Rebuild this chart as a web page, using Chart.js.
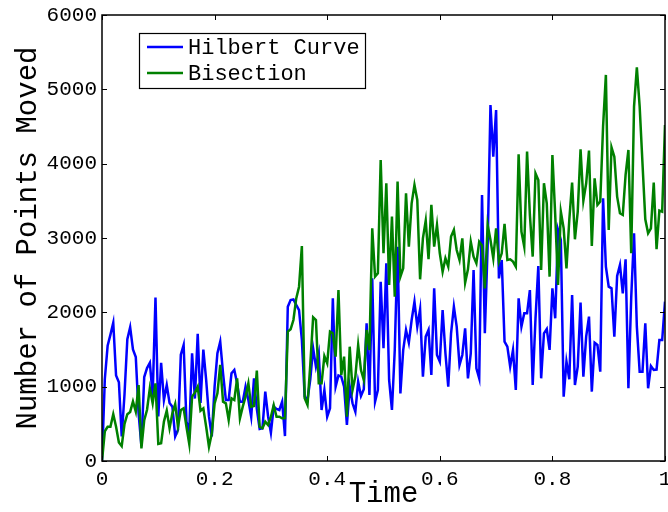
<!DOCTYPE html>
<html>
<head>
<meta charset="utf-8">
<title>Number of Points Moved</title>
<script src="https://cdn.jsdelivr.net/npm/chart.js@4.4.0/dist/chart.umd.min.js"></script>
<style>
  html, body { margin: 0; padding: 0; background: #fff; }
  #wrap { width: 668px; height: 512px; position: relative; }
</style>
</head>
<body>
<div id="wrap"><canvas id="canvas" width="668" height="512"></canvas></div>
<script>
// time samples (x)
var times = [
  0, 0.005, 0.01, 0.015, 0.02, 0.025, 0.03, 0.035, 0.04, 0.045,
  0.05, 0.055, 0.06, 0.065, 0.07, 0.075, 0.08, 0.085, 0.09, 0.095,
  0.1, 0.105, 0.11, 0.115, 0.12, 0.125, 0.13, 0.135, 0.14, 0.145,
  0.15, 0.155, 0.16, 0.165, 0.17, 0.175, 0.18, 0.185, 0.19, 0.195,
  0.2, 0.205, 0.21, 0.215, 0.22, 0.225, 0.23, 0.235, 0.24, 0.245,
  0.25, 0.255, 0.26, 0.265, 0.27, 0.275, 0.28, 0.285, 0.29, 0.295,
  0.3, 0.305, 0.31, 0.315, 0.32, 0.325, 0.33, 0.335, 0.34, 0.345,
  0.35, 0.355, 0.36, 0.365, 0.37, 0.375, 0.38, 0.385, 0.39, 0.395,
  0.4, 0.405, 0.41, 0.415, 0.42, 0.425, 0.43, 0.435, 0.44, 0.445,
  0.45, 0.455, 0.46, 0.465, 0.47, 0.475, 0.48, 0.485, 0.49, 0.495,
  0.5, 0.505, 0.51, 0.515, 0.52, 0.525, 0.53, 0.535, 0.54, 0.545,
  0.55, 0.555, 0.56, 0.565, 0.57, 0.575, 0.58, 0.585, 0.59, 0.595,
  0.6, 0.605, 0.61, 0.615, 0.62, 0.625, 0.63, 0.635, 0.64, 0.645,
  0.65, 0.655, 0.66, 0.665, 0.67, 0.675, 0.68, 0.685, 0.69, 0.695,
  0.7, 0.705, 0.71, 0.715, 0.72, 0.725, 0.73, 0.735, 0.74, 0.745,
  0.75, 0.755, 0.76, 0.765, 0.77, 0.775, 0.78, 0.785, 0.79, 0.795,
  0.8, 0.805, 0.81, 0.815, 0.82, 0.825, 0.83, 0.835, 0.84, 0.845,
  0.85, 0.855, 0.86, 0.865, 0.87, 0.875, 0.88, 0.885, 0.89, 0.895,
  0.9, 0.905, 0.91, 0.915, 0.92, 0.925, 0.93, 0.935, 0.94, 0.945,
  0.95, 0.955, 0.96, 0.965, 0.97, 0.975, 0.98, 0.985, 0.99, 0.995,
  1
];

var hilbert = [
  0, 1100, 1550, 1700, 1860, 1150, 1060, 330, 900, 1640,
  1800, 1500, 1400, 640, 200, 1130, 1250, 1320, 880, 2200,
  600, 1320, 820, 1020, 780, 730, 330, 420, 1430, 1560,
  530, 400, 1450, 840, 1710, 780, 1500, 1090, 600, 330,
  1000, 1450, 1606, 1180, 821, 821, 1180, 1225, 1045, 798,
  798, 1000, 821, 596, 1112, 700, 430, 440, 933, 600,
  381, 731, 700, 686, 798, 336, 2076, 2166, 2175, 2100,
  2030, 1628, 866, 821, 1100, 1516, 1270, 1449, 686, 955,
  596, 708, 2188, 1000, 1150, 1135, 1000, 484, 1000, 776,
  663, 1067, 874, 964, 1852, 888, 2457, 798, 955, 2412,
  1516, 2659, 1090, 686, 1493, 2883, 910, 1493, 1763, 1592,
  1897, 2143, 1807, 2040, 1135, 1673, 1763, 1157, 2323, 1426,
  1337, 2031, 1449, 1000, 1718, 2076, 1807, 1292, 1426, 1785,
  1112, 1449, 2570, 1247, 1112, 3579, 1718, 2900, 4790, 4095,
  4722, 2457, 2704, 1606, 1539, 1270, 1494, 955, 2188, 1807,
  1987, 1987, 2300, 1022, 1920, 2623, 1112, 1718, 1776, 1494,
  2323, 1920, 3108, 2973, 865, 1337, 1100, 2233, 1022, 1270,
  2131, 1135, 1673, 1942, 933, 1592, 1561, 1202, 3534, 2615,
  2345, 2323, 1673, 2488, 2637, 2256, 2713, 978, 2200, 3063,
  1807, 1202, 1202, 1853, 978, 1278, 1224, 1230, 1628, 1628,
  2144
];

var bisection = [
  0, 400, 461, 460, 630, 460, 250, 200, 500, 630,
  660, 800, 664, 1020, 170, 550, 690, 980, 776, 1045,
  230, 238, 530, 677, 440, 641, 766, 461, 686, 709,
  461, 229, 866, 920, 1000, 677, 709, 461, 192, 370,
  776, 910, 1292, 798, 776, 552, 843, 821, 1112, 574,
  731, 866, 1045, 731, 740, 1216, 461, 440, 529, 484,
  596, 753, 596, 596, 574, 574, 1740, 1772, 1897, 2188,
  2345, 2892, 843, 753, 1300, 1933, 1897, 1045, 1045, 1412,
  1314, 1740, 1718, 1404, 2300, 1157, 1404, 596, 1538, 955,
  1135, 1561, 1224, 1090, 1763, 1493, 3130, 2480, 2525, 4050,
  2794, 3736, 2368, 3288, 2211, 3759, 2480, 2592, 3602, 2883,
  3467, 3714, 3512, 2444, 2996, 3234, 2714, 3445, 2883, 3175,
  2794, 2547, 2727, 2615, 3019, 3108, 2839, 2704, 2996, 2398,
  2578, 2951, 2749, 2659, 2951, 2900, 2323, 3175, 2973, 2727,
  3130, 2682, 2794, 3189, 2704, 2713, 2682, 2615, 4126, 3086,
  2883, 4162, 3310, 2749, 3870, 3781, 2570, 3736, 3467, 2480,
  4117, 3310, 2368, 3355, 3130, 2592, 3243, 3745, 2983, 3355,
  4193, 3503, 3736, 4175, 2893, 3803, 3445, 3490, 4498, 5194,
  3108, 4220, 4095, 3557, 3332, 3310, 3848, 4184, 2794, 4767,
  5296, 4767, 4005, 3251, 3063, 3130, 3745, 2849, 3369, 3355,
  4520
];

var seriesNames = ['Hilbert Curve', 'Bisection'];
var xTicks = [0, 0.2, 0.4, 0.6, 0.8, 1];
var yTicks = [0, 1000, 2000, 3000, 4000, 5000, 6000];

var monoFont = '"Liberation Mono", "DejaVu Sans Mono", monospace';

function toPoints(ys) {
  return ys.map(function (y, i) { return { x: times[i], y: y }; });
}

// box around the plot, inward ticks and the legend inside the plot
var framePlugin = {
  id: 'frame',
  afterDatasetsDraw: function (chart) {
    var ctx = chart.ctx;
    var ca = chart.chartArea;
    var xs = chart.scales.x, ys = chart.scales.y;
    var tl = 5;
    ctx.save();
    ctx.strokeStyle = '#000';
    ctx.lineWidth = 1;
    ctx.beginPath();
    xTicks.forEach(function (v) {
      var px = Math.round(xs.getPixelForValue(v)) + 0.5;
      ctx.moveTo(px, ca.bottom); ctx.lineTo(px, ca.bottom - tl);
      ctx.moveTo(px, ca.top); ctx.lineTo(px, ca.top + tl);
    });
    yTicks.forEach(function (v) {
      var py = Math.round(ys.getPixelForValue(v)) + 0.5;
      ctx.moveTo(ca.left, py); ctx.lineTo(ca.left + tl, py);
      ctx.moveTo(ca.right, py); ctx.lineTo(ca.right - tl, py);
    });
    ctx.stroke();
    ctx.lineWidth = 1.5;
    ctx.strokeRect(ca.left, ca.top, ca.right - ca.left, ca.bottom - ca.top);

    // legend
    var bx = ca.left + 37, by = ca.top + 18, bw = 226, bh = 55;
    ctx.fillStyle = '#fff';
    ctx.fillRect(bx, by, bw, bh);
    ctx.lineWidth = 1.2;
    ctx.strokeRect(bx + 0.5, by + 0.5, bw, bh);
    ctx.font = '22px ' + monoFont;
    ctx.textBaseline = 'middle';
    ctx.textAlign = 'left';
    chart.data.datasets.forEach(function (ds, i) {
      var y = by + 14 + i * 26;
      ctx.strokeStyle = ds.borderColor;
      ctx.lineWidth = 2.5;
      ctx.beginPath();
      ctx.moveTo(bx + 8, y);
      ctx.lineTo(bx + 44, y);
      ctx.stroke();
      ctx.fillStyle = '#000';
      ctx.fillText(ds.label, bx + 49, y + 1);
    });
    ctx.restore();
  }
};

var config = {
  type: 'line',
  data: {
    datasets: [
      {
        label: seriesNames[0],
        data: toPoints(hilbert),
        borderColor: '#0000ff',
        backgroundColor: '#0000ff',
        borderWidth: 2.5,
        pointRadius: 0,
        tension: 0,
        fill: false,
        order: 2
      },
      {
        label: seriesNames[1],
        data: toPoints(bisection),
        borderColor: '#008000',
        backgroundColor: '#008000',
        borderWidth: 2.5,
        pointRadius: 0,
        tension: 0,
        fill: false,
        order: 1
      }
    ]
  },
  options: {
    responsive: false,
    devicePixelRatio: 1,
    animation: false,
    layout: { padding: { top: 15, right: 3, left: 0, bottom: 0 } },
    plugins: {
      legend: { display: false },
      tooltip: { enabled: false }
    },
    scales: {
      x: {
        type: 'linear',
        min: 0,
        max: 1,
        afterBuildTicks: function (scale) {
          scale.ticks = xTicks.map(function (v) { return { value: v }; });
        },
        afterFit: function (scale) {
          scale.height = 51;
          scale.paddingLeft = 0;
          scale.paddingRight = 0;
        },
        grid: { display: false, drawTicks: false },
        border: { display: false },
        ticks: {
          color: '#000',
          padding: 6,
          maxRotation: 0,
          font: { family: monoFont, size: 21 },
          callback: function (v) { return String(v); }
        },
        title: {
          display: true,
          text: 'Time',
          color: '#000',
          padding: { top: 0, bottom: 0 },
          font: { family: monoFont, size: 29 }
        }
      },
      y: {
        min: 0,
        max: 6000,
        afterBuildTicks: function (scale) {
          scale.ticks = yTicks.map(function (v) { return { value: v }; });
        },
        afterFit: function (scale) {
          scale.width = 102;
          scale.paddingTop = 0;
          scale.paddingBottom = 0;
        },
        grid: { display: false, drawTicks: false },
        border: { display: false },
        ticks: {
          color: '#000',
          padding: 5,
          font: { family: monoFont, size: 21 },
          callback: function (v) { return String(v); }
        },
        title: {
          display: true,
          text: 'Number of Points Moved',
          color: '#000',
          padding: { top: 11, bottom: 0 },
          font: { family: monoFont, size: 29 }
        }
      }
    }
  },
  plugins: [framePlugin]
};

var ctx = document.getElementById('canvas').getContext('2d');
window.myLine = new Chart(ctx, config);
</script>
</body>
</html>
